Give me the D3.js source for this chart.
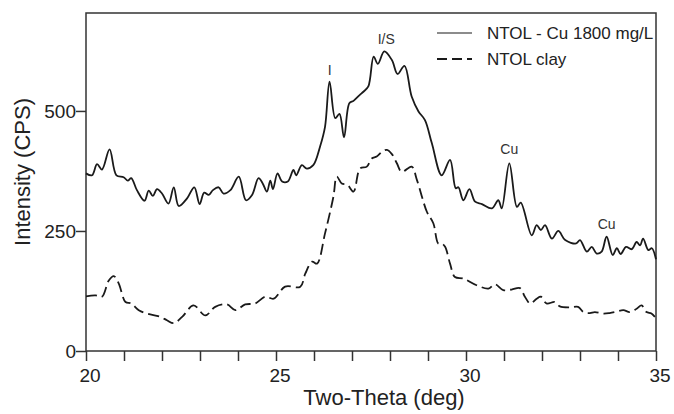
<!DOCTYPE html>
<html lang="en">
  <head>
    <meta charset="UTF-8" />
    <title>XRD pattern</title>
    <script src="https://d3js.org/d3.v7.min.js"></script>
    <style>
      body { margin: 0; background: #fff; }
      svg text { font-family: Arial, "Liberation Sans", sans-serif; fill: #222; }
    </style>
  </head>
  <body>
    <svg id="chart"></svg>
    <script>
      // NTOL - Cu 1800 mg/L (solid)
      let cuTheta = [20.0, 20.16, 20.29, 20.42, 20.62, 20.8, 20.99, 21.1, 21.19, 21.34, 21.54, 21.65, 21.76, 21.87, 22.0,
        22.17, 22.31, 22.44, 22.66, 22.85, 22.99, 23.11, 23.23, 23.34, 23.49, 23.62, 23.8, 24.02, 24.21, 24.37, 24.54,
        24.65, 24.76, 24.85, 24.92, 25.04, 25.16, 25.31, 25.46, 25.53, 25.68, 25.81, 25.98, 26.16, 26.29, 26.41, 26.56,
        26.67, 26.79, 26.93, 27.04, 27.2, 27.3, 27.43, 27.57, 27.68, 27.85, 28.05, 28.2, 28.38, 28.57, 28.75, 28.92,
        29.1, 29.36, 29.58, 29.73, 29.8, 29.93, 30.09, 30.24, 30.42, 30.68, 30.85, 30.94, 31.14, 31.34, 31.44, 31.73,
        31.86, 31.97, 32.08, 32.26, 32.43, 32.61, 32.9, 33.0, 33.18, 33.31, 33.44, 33.57, 33.7, 33.86, 33.97, 34.07,
        34.21, 34.36, 34.49, 34.58, 34.66, 34.8, 34.89, 35.0]
      let cuIntensity = [370, 366, 389, 378, 420, 366, 362, 355, 360, 335, 313, 334, 323, 337, 328,
        307, 341, 302, 318, 341, 306, 330, 325, 335, 341, 328, 335, 363, 314, 325, 360,
        349, 332, 355, 337, 370, 353, 353, 377, 366, 387, 380, 387, 426, 467, 561, 485,
        494, 445, 516, 521, 533, 540, 551, 613, 598, 624, 606, 577, 594, 530, 499, 481,
        433, 366, 398, 339, 341, 314, 337, 311, 306, 297, 314, 297, 391, 300, 309, 241,
        262, 252, 262, 234, 250, 231, 224, 231, 207, 217, 203, 207, 238, 200, 214, 202,
        217, 212, 227, 220, 234, 210, 214, 191]

      // NTOL clay (dashed)
      let clayTheta = [20.0, 20.25, 20.42, 20.6, 20.73, 20.86, 21.04, 21.19, 21.39, 21.61, 21.96, 22.13, 22.31, 22.53,
        22.83, 23.14, 23.4, 23.71, 23.93, 24.19, 24.45, 24.72, 24.94, 25.24, 25.64, 25.77, 25.95, 26.08, 26.29, 26.51,
        26.6, 26.73, 26.88, 27.04, 27.21, 27.39, 27.52, 27.65, 27.79, 27.92, 28.05, 28.18, 28.31, 28.57, 28.71, 28.97,
        29.14, 29.27, 29.36, 29.45, 29.58, 29.71, 29.93, 30.28, 30.59, 30.76, 30.98, 31.2, 31.42, 31.55, 31.69, 31.86,
        31.97, 32.12, 32.34, 32.47, 32.74, 32.95, 33.09, 33.26, 33.39, 33.61, 33.78, 33.92, 34.14, 34.31, 34.49, 34.62,
        34.75, 34.88, 35.0]
      let clayIntensity = [114, 116, 113, 147, 156, 141, 102, 99, 85, 78, 71, 64, 58, 71,
        95, 74, 92, 97, 85, 97, 99, 113, 109, 134, 134, 161, 186, 182, 245, 321,
        363, 349, 346, 332, 380, 384, 401, 405, 415, 419, 410, 391, 373, 384, 356, 290,
        266, 224, 224, 217, 182, 154, 151, 137, 130, 139, 127, 128, 131, 113, 99, 109,
        113, 99, 102, 93, 91, 92, 81, 79, 81, 78, 79, 81, 85, 81, 88, 95,
        81, 78, 68]

      let xTicks = [20, 25, 30, 35]
      let xMinorTicks = d3.range(20, 36, 1)
      let yTicks = [0, 250, 500]
      let seriesNames = ['NTOL - Cu 1800 mg/L', 'NTOL clay']
      let peakNames = ['I', 'I/S', 'Cu', 'Cu']
      let peakTheta = [26.41, 27.9, 31.14, 33.7]
      let peakIntensity = [575, 640, 410, 255]

      let width = 674
      let height = 414
      let margin = { top: 13, right: 18, bottom: 63, left: 86 }

      let svg = d3.select('#chart').attr('width', width).attr('height', height)

      let x = d3.scaleLinear().domain([20, 35]).range([margin.left, width - margin.right])
      let y = d3.scaleLinear().domain([0, 704]).range([height - margin.bottom, margin.top])

      // frame
      svg.append('rect')
        .attr('x', margin.left)
        .attr('y', margin.top)
        .attr('width', width - margin.left - margin.right)
        .attr('height', height - margin.top - margin.bottom)
        .attr('fill', 'none')
        .attr('stroke', '#333')
        .attr('stroke-width', 1.5)

      // x axis: minor ticks every degree, labels every 5
      let xAxis = svg.append('g')
        .attr('transform', `translate(0,${height - margin.bottom})`)
        .call(d3.axisBottom(x).tickValues(xMinorTicks).tickSize(10).tickFormat(''))
      xAxis.select('.domain').remove()
      xAxis.selectAll('line').attr('stroke', '#333').attr('stroke-width', 1.5)

      svg.append('g').selectAll('text')
        .data(xTicks)
        .join('text')
        .attr('x', d => x(d) + 4)
        .attr('y', height - margin.bottom + 31)
        .attr('text-anchor', 'middle')
        .style('font-size', '19px')
        .text(d => d)

      let yAxis = svg.append('g')
        .attr('transform', `translate(${margin.left},0)`)
        .call(d3.axisLeft(y).tickValues(yTicks).tickSize(10).tickPadding(0))
      yAxis.select('.domain').remove()
      yAxis.selectAll('line').attr('stroke', '#333').attr('stroke-width', 1.5)
      yAxis.selectAll('text')
        .style('font-size', '19px')
        .style('font-family', 'Arial, "Liberation Sans", sans-serif')
        .attr('fill', '#222')

      // axis titles
      svg.append('text')
        .attr('x', 384)
        .attr('y', 405)
        .attr('text-anchor', 'middle')
        .style('font-size', '22px')
        .text('Two-Theta (deg)')

      svg.append('text')
        .attr('transform', 'translate(30,172) rotate(-90)')
        .attr('text-anchor', 'middle')
        .style('font-size', '22px')
        .text('Intensity (CPS)')

      // curves
      let line = d3.line()
        .x(d => x(d[0]))
        .y(d => y(d[1]))
        .curve(d3.curveCatmullRom.alpha(0.5))

      svg.append('path')
        .datum(d3.zip(clayTheta, clayIntensity))
        .attr('d', line)
        .attr('fill', 'none')
        .attr('stroke', '#1a1a1a')
        .attr('stroke-width', 1.8)
        .attr('stroke-dasharray', '11,5')

      svg.append('path')
        .datum(d3.zip(cuTheta, cuIntensity))
        .attr('d', line)
        .attr('fill', 'none')
        .attr('stroke', '#1a1a1a')
        .attr('stroke-width', 1.8)

      // peak labels
      svg.append('g').selectAll('text')
        .data(d3.zip(peakNames, peakTheta, peakIntensity))
        .join('text')
        .attr('x', d => x(d[1]))
        .attr('y', d => y(d[2]))
        .attr('text-anchor', 'middle')
        .style('font-size', '14px')
        .style('fill', '#333')
        .text(d => d[0])

      // legend
      let legend = svg.append('g').attr('transform', 'translate(437,33)')
      legend.selectAll('line')
        .data(seriesNames)
        .join('line')
        .attr('x1', 0)
        .attr('x2', 35)
        .attr('y1', (d, i) => i * 26)
        .attr('y2', (d, i) => i * 26)
        .attr('stroke', '#1a1a1a')
        .attr('stroke-width', (d, i) => i ? 2.2 : 1.2)
        .attr('stroke-dasharray', (d, i) => i ? '10,5' : null)
      legend.selectAll('text')
        .data(seriesNames)
        .join('text')
        .attr('x', 50)
        .attr('y', (d, i) => i * 26 + 6)
        .style('font-size', '17px')
        .text(d => d)
    </script>
  </body>
</html>
